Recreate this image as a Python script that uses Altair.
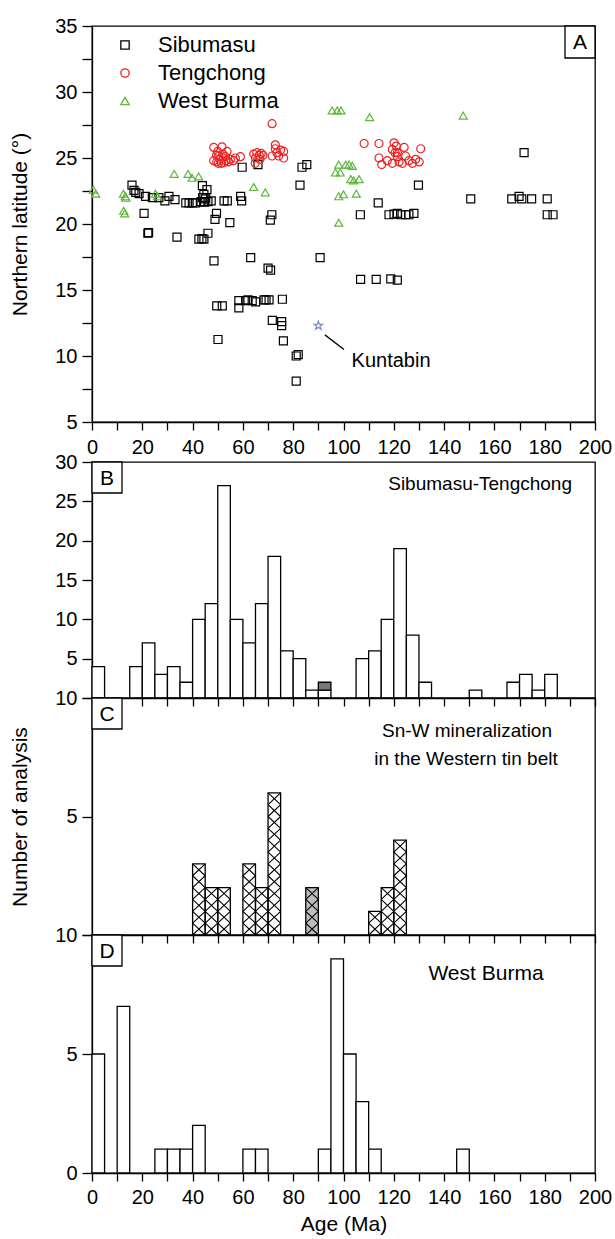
import altair as alt
import pandas as pd

# ---------------- Panel A: scatter (age in Ma, northern latitude) ----------------
sib_age = [15.9, 16.7, 17.4, 18.7, 21.3, 24.0, 26.6, 29.0, 30.6, 33.0, 37.3, 38.6, 39.9, 41.2,
           43.9, 44.5, 45.7, 43.4, 44.7, 46.1, 47.4, 45.2, 44.0, 52.5, 53.8, 59.1, 59.5,
           59.7, 66.0, 83.5, 85.4, 82.7,
           20.7, 49.5, 48.9, 54.8, 71.5, 70.9,
           22.2, 22.5, 33.8, 42.5, 44.5, 43.7, 46.1,
           48.5, 63.1, 90.7, 70.0, 71.0,
           49.6, 51.8, 58.4, 58.4, 61.1, 62.0, 63.7, 65.1, 68.4, 69.2, 70.4, 75.7,
           71.7, 75.4, 75.4, 50.1, 76.1, 81.2, 82.0, 81.2,
           106.8, 113.0, 118.8, 121.4,
           106.7, 118.1, 120.1, 121.4, 122.7, 124.7, 126.0, 128.0, 113.8, 129.8,
           150.6, 166.9, 169.8, 170.9, 174.8, 181.0, 171.8, 181.0, 183.3]
sib_lat = [22.95, 22.55, 22.4, 22.3, 22.1, 22.0, 22.0, 21.75, 22.1, 21.85, 21.6, 21.6, 21.6, 21.6,
           22.9, 22.25, 22.6, 21.7, 21.65, 21.7, 21.75, 21.9, 22.0, 21.75, 21.75, 22.1, 21.75,
           24.3, 24.5, 24.3, 24.5, 22.95,
           20.8, 20.8, 20.35, 20.1, 20.7, 20.3,
           19.3, 19.35, 19.0, 18.85, 18.85, 18.9, 19.3,
           17.2, 17.45, 17.45, 16.65, 16.5,
           13.8, 13.8, 14.2, 13.65, 14.2, 14.25, 14.2, 14.1, 14.25, 14.25, 14.25, 14.3,
           12.7, 12.6, 12.3, 11.25, 11.15, 10.0, 10.1, 8.1,
           15.8, 15.8, 15.85, 15.75,
           20.7, 20.7, 20.75, 20.8, 20.7, 20.7, 20.7, 20.8, 21.6, 22.95,
           21.9, 21.9, 22.1, 21.9, 21.9, 21.9, 25.4, 20.7, 20.7]

ten_age = [48.4, 51.7, 50.0, 53.7, 49.5, 50.4, 52.0, 48.4, 49.6, 50.8, 51.5, 52.4, 53.3, 54.2,
           55.0, 56.3, 57.0, 59.0, 53.0, 50.2,
           64.3, 65.5, 66.5, 67.3, 65.0, 66.8, 64.9, 68.0,
           71.6, 72.9, 72.9, 71.6, 74.2, 76.2, 76.2, 73.5, 75.0,
           108.2, 114.1, 120.1, 121.0, 124.1, 130.7, 119.4, 121.4, 114.1, 124.7, 128.7, 115.2,
           117.4, 119.4, 122.1, 123.4, 127.4, 130.1, 121.4, 120.5, 126.0]
ten_lat = [25.8, 25.85, 25.5, 25.5, 25.2, 25.15, 25.3, 24.8, 24.7, 24.9, 24.6, 24.65, 24.8, 24.7,
           24.9, 24.8, 25.0, 25.1, 25.1, 24.6,
           25.3, 25.4, 25.2, 25.35, 25.0, 24.9, 24.6, 25.2,
           27.6, 26.0, 25.7, 25.15, 25.15, 25.5, 25.0, 25.4, 25.6,
           26.1, 26.1, 26.15, 25.9, 25.8, 25.7, 25.65, 25.4, 25.0, 25.15, 24.9, 24.5,
           24.8, 24.6, 24.7, 24.6, 24.6, 24.7, 25.1, 25.4, 24.8]

wb_age = [0.5, 1.5, 12.5, 13.2, 13.5, 12.6, 13.0, 25.2, 26.0, 32.7, 38.2, 39.8, 42.4, 64.3, 68.9,
          95.5, 97.5, 99.0, 110.4, 147.6, 98.1, 100.9, 102.2, 103.5, 96.8, 98.7, 102.9, 106.2,
          104.0, 98.1, 100.0, 105.1, 98.1]
wb_lat = [22.6, 22.3, 22.3, 22.1, 22.0, 21.0, 20.8, 22.3, 22.1, 23.8, 23.8, 23.5, 23.6, 22.8, 22.4,
          28.6, 28.6, 28.6, 28.1, 28.2, 24.5, 24.5, 24.5, 24.4, 23.9, 23.9, 23.4, 23.4,
          23.3, 22.1, 22.25, 22.3, 20.1]

groups = ["Sibumasu", "Tengchong", "West Burma"]
group_colors = ["#000000", "#ee2222", "#5cb83a"]
group_shapes = ["square", "circle", "triangle-up"]

kuntabin_age = [90.0]
kuntabin_lat = [12.3]
kuntabin_line_age = [92.6, 100.2]
kuntabin_line_lat = [11.6, 10.5]
kuntabin_label_age = [103.2]
kuntabin_label_lat = [9.6]

# ---------------- Histograms (5 Ma bins) ----------------
bin_start = list(range(0, 200, 5))
b_counts = [4, 0, 0, 4, 7, 3, 4, 2, 10, 12, 27, 10, 7, 12, 18, 6, 5, 1, 1, 0,
            0, 5, 6, 10, 19, 8, 2, 0, 0, 0, 1, 0, 0, 2, 3, 1, 3, 0, 0, 0]
b_gray = [0] * 18 + [1] + [0] * 21
c_counts = [0, 0, 0, 0, 0, 0, 0, 0, 3, 2, 2, 0, 3, 2, 6, 0, 0, 0, 0, 0,
            0, 0, 1, 2, 4, 0, 0, 0, 0, 0, 0, 0, 0, 0, 0, 0, 0, 0, 0, 0]
c_gray = [0] * 17 + [2] + [0] * 22
d_counts = [5, 0, 7, 0, 0, 1, 1, 1, 2, 0, 0, 0, 1, 1, 0, 0, 0, 0, 1, 9,
            5, 3, 1, 0, 0, 0, 0, 0, 0, 1, 0, 0, 0, 0, 0, 0, 0, 0, 0, 0]

W = 503
FONT = "Liberation Sans"
xscale = alt.Scale(domain=[0, 200], nice=False, zero=False)
x_vals = list(range(0, 201, 10))
LBL20 = "datum.value % 20 === 0 ? datum.label : ''"
NO_ZERO = "datum.value === 0 ? '' : datum.label"


def x_axis(labels):
    if labels:
        return alt.Axis(values=x_vals, labelExpr=LBL20, tickSize=8, labelPadding=7,
                        labelFlush=False, title=None)
    return alt.Axis(values=x_vals, labels=False, tickSize=8, title=None)


def y_axis(values, title=None, label_expr=None):
    kw = dict(values=values, tickSize=10, labelPadding=5, minExtent=36, maxExtent=36,
              titlePadding=26)
    if label_expr:
        kw["labelExpr"] = label_expr
    return alt.Axis(title=title, **kw)


one = pd.DataFrame({"k": [0]})


def letter_box(letter, x0, y0=0, w=30, h=31):
    box = alt.Chart(one).mark_rect(fill="white", stroke="black", strokeWidth=1.3).encode(
        x=alt.value(x0), x2=alt.value(x0 + w), y=alt.value(y0), y2=alt.value(y0 + h))
    txt = alt.Chart(one).mark_text(text=letter, fontSize=21, font=FONT, color="black",
                                   align="center", baseline="middle").encode(
        x=alt.value(x0 + w / 2), y=alt.value(y0 + h / 2 + 1))
    return [box, txt]


def note(text, x, y, align="center", size=20):
    return alt.Chart(one).mark_text(text=text, fontSize=size, font=FONT, color="black",
                                    align=align, baseline="middle").encode(
        x=alt.value(x), y=alt.value(y))


# ---------------- Panel A ----------------
scat = pd.concat([
    pd.DataFrame({"age": sib_age, "lat": sib_lat, "group": "Sibumasu"}),
    pd.DataFrame({"age": ten_age, "lat": ten_lat, "group": "Tengchong"}),
    pd.DataFrame({"age": wb_age, "lat": wb_lat, "group": "West Burma"}),
], ignore_index=True)

yA_scale = alt.Scale(domain=[5, 35], nice=False, zero=False)
xA = alt.X("age:Q", scale=xscale, axis=x_axis(True))
yA = alt.Y("lat:Q", scale=yA_scale,
           axis=y_axis([5 + 2.5 * i for i in range(13)], "Northern latitude (°)",
                       "datum.value % 5 === 0 ? datum.label : ''"))

leg = alt.Legend(title=None, orient="none", legendX=22, legendY=8,
                 labelFontSize=22, labelFont=FONT, symbolSize=70,
                 symbolStrokeWidth=1.3, rowPadding=6, labelOffset=22, padding=0)
points = alt.Chart(scat).mark_point(filled=False, size=64, strokeWidth=1.2, opacity=1).encode(
    x=xA, y=yA,
    color=alt.Color("group:N", scale=alt.Scale(domain=groups, range=group_colors), legend=leg),
    shape=alt.Shape("group:N", scale=alt.Scale(domain=groups, range=group_shapes), legend=leg),
)

STAR = ("M0,-1L0.2245,-0.309L0.951,-0.309L0.363,0.118L0.588,0.809L0,0.382"
        "L-0.588,0.809L-0.363,0.118L-0.951,-0.309L-0.2245,-0.309Z")
star = alt.Chart(pd.DataFrame({"age": kuntabin_age, "lat": kuntabin_lat})).mark_point(
    shape=STAR, filled=False, size=80, color="#2e4fa8", strokeWidth=1.1).encode(x=xA, y=yA)
kline = alt.Chart(pd.DataFrame({"age": [kuntabin_line_age[0]], "age2": [kuntabin_line_age[1]],
                                "lat": [kuntabin_line_lat[0]], "lat2": [kuntabin_line_lat[1]]})
                  ).mark_rule(color="black", strokeWidth=1.3).encode(
    x=xA, x2="age2:Q", y=yA, y2="lat2:Q")
klabel = alt.Chart(pd.DataFrame({"age": kuntabin_label_age, "lat": kuntabin_label_lat})).mark_text(
    text="Kuntabin", fontSize=20, font=FONT, color="black", align="left", baseline="middle"
).encode(x=xA, y=yA)

panelA = alt.layer(points, star, kline, klabel, *letter_box("A", W - 30, 0, 30, 32)).properties(
    width=W, height=396)

spacer = alt.Chart(one).mark_point(opacity=0).encode(
    x=alt.X("k:Q", axis=None), y=alt.Y("k:Q", axis=None)
).properties(width=W, height=40, view=alt.ViewBackground(strokeOpacity=0))


# ---------------- Histogram helpers ----------------
def hist_frame(counts):
    df = pd.DataFrame({"start": bin_start, "end": [s + 5 for s in bin_start], "count": counts})
    df["base"] = 0
    return df[df["count"] > 0]


def bars(df, yscale, yax, xax, fill="white"):
    return alt.Chart(df).mark_rect(fill=fill, stroke="black", strokeWidth=1.3).encode(
        x=alt.X("start:Q", scale=xscale, axis=xax), x2="end:Q",
        y=alt.Y("count:Q", scale=yscale, axis=yax), y2="base:Q")


# ---------------- Panel B ----------------
yB_scale = alt.Scale(domain=[0, 30], nice=False)
yB_ax = y_axis(list(range(0, 31, 5)), None, NO_ZERO)
dfB = hist_frame(b_counts)
dfBg = pd.DataFrame({"start": bin_start, "end": [s + 5 for s in bin_start],
                     "base": b_counts, "gray": b_gray})
dfBg["count"] = dfBg["base"] + dfBg["gray"]
dfBg = dfBg[dfBg["gray"] > 0]
panelB = alt.layer(
    bars(dfB, yB_scale, yB_ax, x_axis(False)),
    bars(dfBg, yB_scale, yB_ax, x_axis(False), fill="#777777"),
    note("Sibumasu-Tengchong", 480, 22, "right", 19),
    *letter_box("B", 0),
).properties(width=W, height=236)

# ---------------- Panel C ----------------
yC_scale = alt.Scale(domain=[0, 10], nice=False)
yC_ax = y_axis([0, 5, 10], "Number of analysis", NO_ZERO)
dfC = hist_frame(c_counts)
dfCg = hist_frame(c_gray)
hatch_rows = []
for s, cw, cg in zip(bin_start, c_counts, c_gray):
    h = cw + cg
    n = int(round(h / 0.5))
    for k in range(n):
        y0, y1 = k * h / n, (k + 1) * h / n
        hatch_rows.append({"start": s, "end": s + 5, "yy": y0, "yy2": y1})
        hatch_rows.append({"start": s + 5, "end": s, "yy": y0, "yy2": y1})
dfH = pd.DataFrame(hatch_rows)
xC_ax = x_axis(False)


def c_rect(df, **mk):
    return alt.Chart(df).mark_rect(**mk).encode(
        x=alt.X("start:Q", scale=xscale, axis=xC_ax), x2="end:Q",
        y=alt.Y("count:Q", scale=yC_scale, axis=yC_ax), y2="base:Q")


hatch = alt.Chart(dfH).mark_rule(color="black", strokeWidth=1.1).encode(
    x=alt.X("start:Q", scale=xscale, axis=xC_ax), x2="end:Q",
    y=alt.Y("yy:Q", scale=yC_scale, axis=yC_ax), y2="yy2:Q")
panelC = alt.layer(
    c_rect(dfC, fill="white"),
    c_rect(dfCg, fill="#bdbdbd"),
    hatch,
    c_rect(pd.concat([dfC, dfCg]), fill="transparent", stroke="black", strokeWidth=1.3),
    note("Sn-W mineralization", 375, 33, size=19),
    note("in the Western tin belt", 374, 61, size=19),
    *letter_box("C", 0),
).properties(width=W, height=237)

# ---------------- Panel D ----------------
yD_scale = alt.Scale(domain=[0, 10], nice=False)
yD_ax = y_axis([0, 5, 10])
xD_ax = alt.Axis(values=x_vals, labelExpr=LBL20, tickSize=8, labelPadding=6,
                 labelFlush=False, title="Age (Ma)", titlePadding=6)
dfD = hist_frame(d_counts)
panelD = alt.layer(
    bars(dfD, yD_scale, yD_ax, xD_ax),
    note("West Burma", 394, 39, size=21),
    *letter_box("D", 0),
).properties(width=W, height=238)

chart = alt.vconcat(panelA, spacer, panelB, panelC, panelD, spacing=0, bounds="flush").properties(
    padding={"left": 8, "top": 15, "right": 0, "bottom": 0}
).configure(font=FONT, background="white").configure_axis(
    grid=False, domainColor="black", tickColor="black", labelColor="black", titleColor="black",
    domainWidth=1.3, tickWidth=1.3, labelFontSize=20, titleFontSize=21,
    titleFontWeight="normal", labelFont=FONT, titleFont=FONT
).configure_view(stroke="black", strokeWidth=1.3)

chart.save("out.html", embed_options={"renderer": "svg", "actions": False})
